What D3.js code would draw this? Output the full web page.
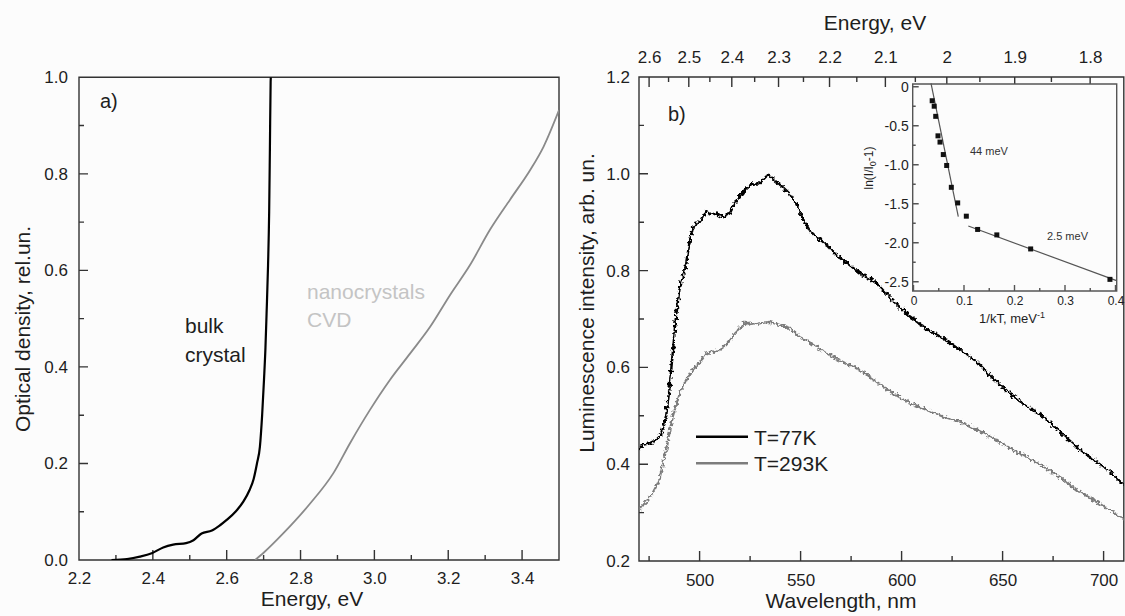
<!DOCTYPE html>
<html>
<head>
<meta charset="utf-8">
<script src="https://cdn.jsdelivr.net/npm/d3@7"></script>
<style>
body{margin:0;background:#fcfcfc;}
svg{display:block;font-family:"Liberation Sans",Arial,sans-serif;}
</style>
</head>
<body>
<svg id="chart_svg" width="1125" height="616"></svg>
<script>
// ---- データ ----
// a) 光学密度（バルク結晶）
var bulkEnergy = [2.288, 2.33, 2.365, 2.397, 2.428, 2.455, 2.49, 2.51, 2.532, 2.56, 2.582, 2.60,
                  2.625, 2.645, 2.662, 2.673, 2.682, 2.690, 2.696, 2.701, 2.705, 2.708, 2.712,
                  2.715, 2.717, 2.719, 2.7195];
var bulkOD     = [0, 0.002, 0.007, 0.014, 0.026, 0.032, 0.035, 0.041, 0.055, 0.061, 0.072, 0.083,
                  0.101, 0.121, 0.145, 0.168, 0.20, 0.235, 0.30, 0.373, 0.44, 0.51, 0.61,
                  0.72, 0.85, 0.99, 1.0];
// a) 光学密度（ナノ結晶 CVD）
var nanoEnergy = [2.677, 2.70, 2.753, 2.826, 2.889, 2.934, 2.988, 3.042, 3.097, 3.151, 3.205,
                  3.259, 3.313, 3.367, 3.422, 3.458, 3.50];
var nanoOD     = [0, 0.015, 0.055, 0.117, 0.18, 0.242, 0.311, 0.373, 0.428, 0.483, 0.549,
                  0.611, 0.684, 0.746, 0.808, 0.856, 0.932];

// b) 発光スペクトル T=77K
var wl77  = [470, 471.8, 475.1, 478.4, 480.9, 483.4, 485.0, 486.7, 488.3, 490, 491.6, 493.3, 494.9,
             496.6, 498.2, 500.7, 503.2, 505.6, 508.1, 511.4, 514.7, 517.2, 519.7, 523, 526.3,
             529.6, 532.9, 534.5, 537.8, 541.1, 544.4, 547.7, 551, 554.3, 557.6, 560.9, 564.2,
             567.5, 570.8, 574.1, 577.4, 580.7, 584, 587.5, 595.9, 604.2, 612.4, 620.6, 628.9,
             637.2, 645.4, 653.7, 661.9, 670.2, 678.4, 686.7, 694.9, 703.2, 710.6];
var int77 = [0.43, 0.44, 0.443, 0.45, 0.46, 0.498, 0.553, 0.629, 0.705, 0.76, 0.787, 0.812, 0.856,
             0.887, 0.898, 0.901, 0.922, 0.915, 0.918, 0.911, 0.918, 0.939, 0.953, 0.970, 0.980,
             0.98, 0.994, 0.997, 0.984, 0.973, 0.96, 0.939, 0.908, 0.884, 0.870, 0.86, 0.849,
             0.832, 0.822, 0.812, 0.801, 0.791, 0.784, 0.774, 0.737, 0.705, 0.679, 0.660, 0.636,
             0.612, 0.577, 0.546, 0.519, 0.498, 0.467, 0.436, 0.409, 0.385, 0.354];
// b) 発光スペクトル T=293K
var wl293  = [470, 473, 476, 478, 480, 483.4, 486.7, 490, 493.3, 496.6, 499.9, 503.2, 506.5,
              509.8, 513.1, 516.4, 519.7, 523, 526.3, 529.6, 534.5, 539.5, 544.4, 549.4, 554.3,
              559.3, 564.2, 569.2, 574.1, 579.1, 584, 587.7, 595.9, 604.2, 612.4, 620.6, 628.9,
              637.2, 645.4, 653.7, 661.9, 670.2, 678.4, 686.7, 694.9, 703.2, 710.6];
var int293 = [0.305, 0.32, 0.335, 0.35, 0.367, 0.429, 0.498, 0.546, 0.574, 0.595, 0.608, 0.629, 0.632,
              0.636, 0.646, 0.663, 0.681, 0.694, 0.688, 0.691, 0.694, 0.688, 0.681, 0.663, 0.653,
              0.639, 0.626, 0.615, 0.605, 0.595, 0.581, 0.570, 0.546, 0.526, 0.512, 0.498, 0.488,
              0.471, 0.454, 0.433, 0.415, 0.395, 0.374, 0.347, 0.326, 0.305, 0.285];

// 挿入図 ln(I/I0-1) vs 1/kT
var invKT   = [0.037, 0.041, 0.044, 0.0485, 0.0525, 0.059, 0.0657, 0.0749, 0.0875, 0.1046, 0.127, 0.165, 0.232, 0.389];
var lnRatio = [-0.18, -0.25, -0.38, -0.63, -0.71, -0.87, -1.01, -1.29, -1.49, -1.66, -1.83, -1.90, -2.08, -2.47];
// フィット直線（始点・終点）
var fit44X = [0.0347, 0.0887], fit44Y = [0.042, -1.667];
var fit25X = [0.1085, 0.402],  fit25Y = [-1.786, -2.487];

// 目盛り
var aXTicks = [2.2, 2.4, 2.6, 2.8, 3.0, 3.2, 3.4];
var aXMinor = [2.3, 2.5, 2.7, 2.9, 3.1, 3.3];
var aYTicks = [0, 0.2, 0.4, 0.6, 0.8, 1.0];
var aYMinor = [0.1, 0.3, 0.5, 0.7, 0.9];
var bXTicks = [500, 550, 600, 650, 700];
var bXMinor = [475, 525, 575, 625, 675];
var bYTicks = [0.2, 0.4, 0.6, 0.8, 1.0, 1.2];
var bYMinor = [0.3, 0.5, 0.7, 0.9, 1.1];
var eTicks  = [2.6, 2.5, 2.4, 2.3, 2.2, 2.1, 2.0, 1.9, 1.8];
var eLabels = ['2.6', '2.5', '2.4', '2.3', '2.2', '2.1', '2', '1.9', '1.8'];
var eMinor  = [2.55, 2.45, 2.35, 2.25, 2.15, 2.05, 1.95, 1.85, 1.75];
var iXTicks = [0, 0.1, 0.2, 0.3, 0.4];
var iXMinor = [0.05, 0.15, 0.25, 0.35];
var iYTicks = [0, -0.5, -1.0, -1.5, -2.0, -2.5];
var iYMinor = [-0.25, -0.75, -1.25, -1.75, -2.25];

var AxisColor = '#333';
var TextColor = '#1e1e1e';

var svg = d3.select('#chart_svg');

// ノイズっぽい線にするフィルタ（見た目だけ）
var defs = svg.append('defs');
var flt = defs.append('filter').attr('id', 'rough')
    .attr('x', '-2%').attr('y', '-2%').attr('width', '104%').attr('height', '104%');
flt.append('feTurbulence').attr('type', 'fractalNoise').attr('baseFrequency', 0.3)
    .attr('numOctaves', 2).attr('seed', 7).attr('result', 'noise');
flt.append('feDisplacementMap').attr('in', 'SourceGraphic').attr('in2', 'noise')
    .attr('scale', 6).attr('xChannelSelector', 'R').attr('yChannelSelector', 'G');

// 目盛りラベル（d3.axis、線は枠と一緒に描く）
function addAxis(parent, axis, tx, ty, fontSize){
    var g = parent.append('g')
        .attr('transform', 'translate(' + tx + ',' + ty + ')')
        .call(axis.tickSize(0));
    g.attr('font-family', null).attr('font-size', fontSize);
    g.select('.domain').remove();
    g.selectAll('line').remove();
    g.selectAll('text').attr('fill', TextColor);
    return g;
}

// 枠と内向きの目盛りを1本のパスで描く
// ticks: [{scale, values, orient, len}]
function addFrame(x0, x1, y0, y1, ticks, fill, color){
    var p = d3.path();
    p.rect(x0, y0, x1 - x0, y1 - y0);
    ticks.forEach(function(t){
        t.values.forEach(function(v){
            var c = t.scale(v);
            if (t.orient === 'left')      { p.moveTo(x0, c); p.lineTo(x0 + t.len, c); }
            else if (t.orient === 'top')  { p.moveTo(c, y0); p.lineTo(c, y0 + t.len); }
            else                          { p.moveTo(c, y1); p.lineTo(c, y1 - t.len); }
        });
    });
    if (fill) {
        svg.append('rect').attr('x', x0).attr('y', y0)
            .attr('width', x1 - x0).attr('height', y1 - y0).attr('fill', fill);
    }
    svg.append('path').attr('d', p.toString())
        .attr('fill', 'none').attr('stroke', color || AxisColor).attr('stroke-width', 1.4);
}

function addClip(id, x, y, w, h){
    defs.append('clipPath').attr('id', id)
        .append('rect').attr('x', x).attr('y', y).attr('width', w).attr('height', h);
}

// ================= a) =================
var xA = d3.scaleLinear().domain([2.2, 3.5]).range([79, 559]);
var yA = d3.scaleLinear().domain([0, 1]).range([560, 77.3]);

addFrame(79, 559, 77.3, 560, [
    {scale: xA, values: aXTicks, orient: 'bottom', len: 10},
    {scale: xA, values: aXMinor, orient: 'bottom', len: 5},
    {scale: yA, values: aYTicks, orient: 'left', len: 9},
    {scale: yA, values: aYMinor, orient: 'left', len: 5}
]);
addAxis(svg, d3.axisBottom(xA).tickValues(aXTicks).tickFormat(d3.format('.1f')).tickPadding(12), 0, 560, 17);
addAxis(svg, d3.axisLeft(yA).tickValues(aYTicks).tickFormat(d3.format('.1f')).tickPadding(11), 79, 0, 17);

addClip('clipA', 79, 77.3, 480, 482.7);
svg.append('path').datum(d3.zip(nanoEnergy, nanoOD))
    .attr('d', d3.line().x(d => xA(d[0])).y(d => yA(d[1])).curve(d3.curveMonotoneX))
    .attr('clip-path', 'url(#clipA)')
    .attr('fill', 'none').attr('stroke', '#8a8a8a').attr('stroke-width', 1.8);
svg.append('path').datum(d3.zip(bulkEnergy, bulkOD))
    .attr('d', d3.line().x(d => xA(d[0])).y(d => yA(d[1])).curve(d3.curveMonotoneX))
    .attr('clip-path', 'url(#clipA)')
    .attr('fill', 'none').attr('stroke', '#000').attr('stroke-width', 2.2);

svg.append('text').attr('x', 100).attr('y', 108).attr('font-size', 20).attr('fill', TextColor).text('a)');
svg.append('text').attr('x', 185).attr('y', 333).attr('font-size', 21).attr('fill', TextColor).text('bulk');
svg.append('text').attr('x', 185).attr('y', 362).attr('font-size', 21).attr('fill', TextColor).text('crystal');
svg.append('text').attr('x', 307).attr('y', 299).attr('font-size', 21).attr('fill', '#c4c4c4').text('nanocrystals');
svg.append('text').attr('x', 307).attr('y', 327).attr('font-size', 21).attr('fill', '#c4c4c4').text('CVD');

svg.append('text').attr('transform', 'translate(30,329) rotate(-90)')
    .attr('text-anchor', 'middle').attr('font-size', 21).attr('fill', TextColor)
    .text('Optical density, rel.un.');
svg.append('text').attr('x', 312).attr('y', 606)
    .attr('text-anchor', 'middle').attr('font-size', 21).attr('fill', TextColor)
    .text('Energy, eV');

// ================= b) =================
var xB = d3.scaleLinear().domain([470, 710]).range([639, 639 + 240 * 2.02]);
var yB = d3.scaleLinear().domain([0.2, 1.2]).range([561, 77]);
// 上軸：1/E に対して線形（元図の目盛り位置に合わせる）
var xE = d3.scaleLinear().domain([0.3807, 0.5686]).range(xB.range());
var eTickPos  = eTicks.map(e => 1 / e);
var eMinorPos = eMinor.map(e => 1 / e);

addFrame(639, xB.range()[1], 77, 561, [
    {scale: xB, values: bXTicks, orient: 'bottom', len: 10},
    {scale: xB, values: bXMinor, orient: 'bottom', len: 5},
    {scale: yB, values: bYTicks, orient: 'left', len: 9},
    {scale: yB, values: bYMinor, orient: 'left', len: 5},
    {scale: xE, values: eTickPos, orient: 'top', len: 10},
    {scale: xE, values: eMinorPos, orient: 'top', len: 5}
]);
addAxis(svg, d3.axisBottom(xB).tickValues(bXTicks).tickPadding(13), 0, 561, 17);
addAxis(svg, d3.axisLeft(yB).tickValues(bYTicks).tickFormat(d3.format('.1f')).tickPadding(9), 639, 0, 17);
addAxis(svg, d3.axisTop(xE).tickValues(eTickPos)
        .tickFormat((d, i) => eLabels[i]).tickPadding(14), 0, 77, 17);

addClip('clipB', 639, 77, xB.range()[1] - 639, 484);
var lineB = d3.line().x(d => xB(d[0])).y(d => yB(d[1]));
var curves = svg.append('g').attr('clip-path', 'url(#clipB)')
    .append('g').attr('filter', 'url(#rough)');
curves.append('path').datum(d3.zip(wl293, int293))
    .attr('d', lineB)
    .attr('fill', 'none').attr('stroke', '#7c7c7c').attr('stroke-width', 2.2);
curves.append('path').datum(d3.zip(wl77, int77))
    .attr('d', lineB)
    .attr('fill', 'none').attr('stroke', '#000').attr('stroke-width', 2.4);

svg.append('text').attr('x', 668).attr('y', 121).attr('font-size', 20).attr('fill', TextColor).text('b)');

// 凡例
var legend = [{label: 'T=77K', color: '#000', y: 436.7}, {label: 'T=293K', color: '#7c7c7c', y: 463.3}];
legend.forEach(function(l){
    svg.append('line').attr('x1', 696).attr('x2', 748).attr('y1', l.y).attr('y2', l.y)
        .attr('stroke', l.color).attr('stroke-width', 2.4);
    svg.append('text').attr('x', 754).attr('y', l.y + 8).attr('font-size', 21).attr('fill', TextColor).text(l.label);
});

svg.append('text').attr('transform', 'translate(594,303) rotate(-90)')
    .attr('text-anchor', 'middle').attr('font-size', 21).attr('fill', TextColor)
    .text('Luminescence intensity, arb. un.');
svg.append('text').attr('x', 841).attr('y', 608)
    .attr('text-anchor', 'middle').attr('font-size', 21).attr('fill', TextColor)
    .text('Wavelength, nm');
svg.append('text').attr('x', 875).attr('y', 30)
    .attr('text-anchor', 'middle').attr('font-size', 21).attr('fill', TextColor)
    .text('Energy, eV');

// ================= 挿入図 =================
var xI = d3.scaleLinear().domain([0, 0.4]).range([913.5, 1115.5]);
var yI = d3.scaleLinear().domain([0, -2.5]).range([86.7, 281.7]);
var insetBox = {x0: 912.7, x1: 1116.7, y0: 84, y1: 291};

addFrame(insetBox.x0, insetBox.x1, insetBox.y0, insetBox.y1, [
    {scale: xI, values: iXTicks, orient: 'bottom', len: 6},
    {scale: xI, values: iXMinor, orient: 'bottom', len: 3},
    {scale: yI, values: iYTicks, orient: 'left', len: 6},
    {scale: yI, values: iYMinor, orient: 'left', len: 3}
], '#fcfcfc', '#555');
addAxis(svg, d3.axisBottom(xI).tickValues(iXTicks).tickFormat(d3.format('~g')).tickPadding(5), 0, insetBox.y1, 12);
addAxis(svg, d3.axisLeft(yI).tickValues(iYTicks)
        .tickFormat(d => d === 0 ? '0' : d3.format('.1f')(d).replace('\u2212', '-')).tickPadding(4), insetBox.x0, 0, 14);

var lineI = d3.line().x(d => xI(d[0])).y(d => yI(d[1]));
[[fit44X, fit44Y], [fit25X, fit25Y]].forEach(function(f){
    svg.append('path').datum(d3.zip(f[0], f[1]))
        .attr('d', lineI).attr('fill', 'none').attr('stroke', '#555').attr('stroke-width', 1.2);
});
svg.selectAll('.pt').data(d3.zip(invKT, lnRatio)).enter()
    .append('rect').attr('class', 'pt')
    .attr('x', d => xI(d[0]) - 2.5).attr('y', d => yI(d[1]) - 2.5)
    .attr('width', 5).attr('height', 5).attr('fill', '#111');

svg.append('text').attr('x', 970).attr('y', 155).attr('font-size', 11).attr('fill', '#333').text('44 meV');
svg.append('text').attr('x', 1047).attr('y', 240).attr('font-size', 11).attr('fill', '#333').text('2.5 meV');

var yt = svg.append('text').attr('transform', 'translate(873,168) rotate(-90)')
    .attr('text-anchor', 'middle').attr('font-size', 12).attr('fill', TextColor);
yt.append('tspan').text('ln(I/I');
yt.append('tspan').attr('dy', 3).attr('font-size', 9).text('0');
yt.append('tspan').attr('dy', -3).text('-1)');

var xt = svg.append('text').attr('x', 1012).attr('y', 323)
    .attr('text-anchor', 'middle').attr('font-size', 13).attr('fill', TextColor);
xt.append('tspan').text('1/kT, meV');
xt.append('tspan').attr('dy', -5).attr('font-size', 9).text('-1');
</script>
</body>
</html>
